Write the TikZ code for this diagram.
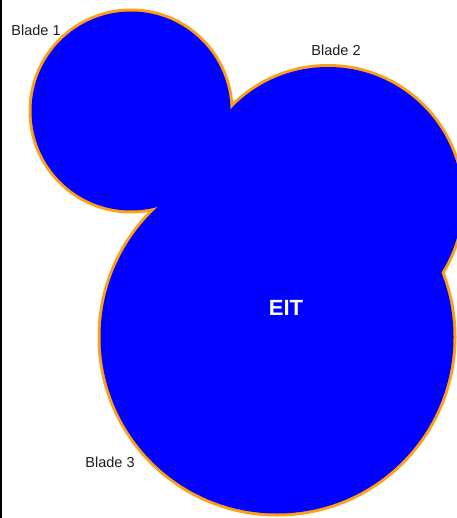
\documentclass[tikz,border=0pt]{standalone}
\usepackage{fontspec}
\setmainfont{Liberation Sans}
\definecolor{bladeblue}{RGB}{0,0,255}
\definecolor{bladeorange}{RGB}{255,160,20}
\definecolor{labelgray}{RGB}{30,30,30}
\begin{document}
\begin{tikzpicture}[x=1pt,y=-1pt,
  rim/.style={draw=bladeorange,line width=6pt},
  body/.style={fill=bladeblue},
  bladelabel/.style={text=labelgray,font=\fontsize{14.5}{16}\selectfont,inner sep=0pt},
  centerlabel/.style={text=white,font=\bfseries\fontsize{22}{24}\selectfont,inner sep=0pt}]
\useasboundingbox (0,0) rectangle (456,518);
\fill[white] (0,0) rectangle (456,518);
\draw[black,line width=1.5pt] (0.75,0) -- (0.75,518);
% outlines
\draw[rim] (131,111) circle[radius=99.5];
\draw[rim] (328,201) circle[radius=134];
\draw[rim] (277,337) circle[radius=176.5];
% fills
\fill[body] (131,111) circle[radius=99.5];
\fill[body] (328,201) circle[radius=134];
\fill[body] (277,337) circle[radius=176.5];
% labels
\node[bladelabel] (b1) at (36,30) {Blade 1};
\node[bladelabel] (b2) at (336,50) {Blade 2};
\node[bladelabel] (b3) at (110,462) {Blade 3};
\node[centerlabel] (eit) at (286,308) {EIT};
\end{tikzpicture}
\end{document}
